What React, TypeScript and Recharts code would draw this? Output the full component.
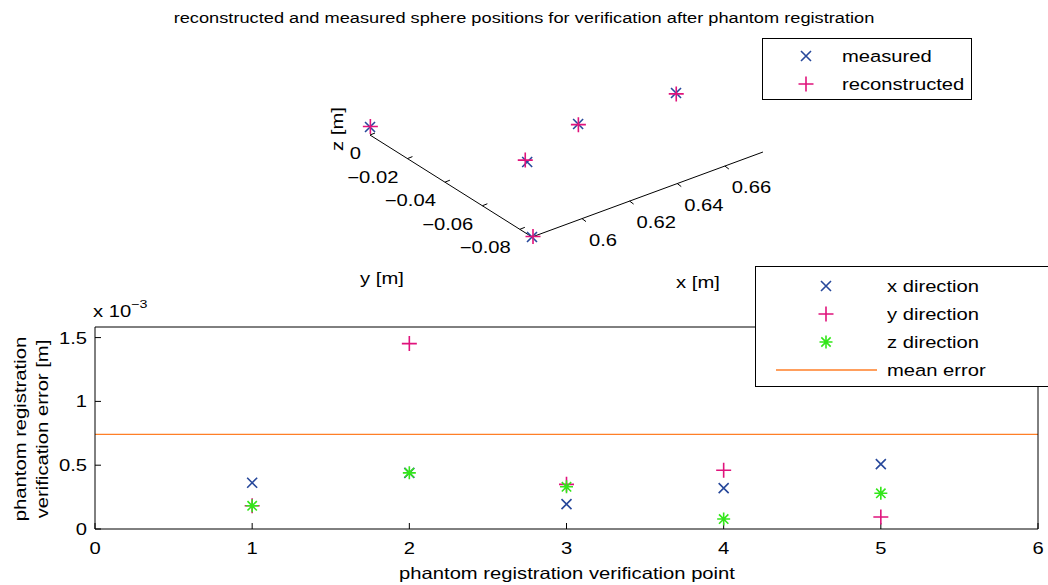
import { ScatterChart, Scatter, XAxis, YAxis, ReferenceLine } from 'recharts';

// 3D sphere positions [m]
const measuredX = [0.5824, 0.6093, 0.6388, 0.6778, 0.579];
const measuredY = [0.0043, -0.0454, -0.0351, -0.0378, -0.0865];
const reconstructedX = [0.5827, 0.6096, 0.6386, 0.6775, 0.5795];
const reconstructedY = [0.0045, -0.044, -0.0355, -0.0383, -0.0864];

const xTicks3d = [0.6, 0.62, 0.64, 0.66];
const yTicks3d = [0, -0.02, -0.04, -0.06, -0.08];
const xLim3d = [0.579, 0.676];
const yLim3d = [-0.0865, 0];

// verification errors per point [m]
const points = [1, 2, 3, 4, 5];
const errX = [0.362e-3, 0.44e-3, 0.195e-3, 0.32e-3, 0.508e-3];
const errY = [0.182e-3, 1.453e-3, 0.35e-3, 0.46e-3, 0.094e-3];
const errZ = [0.182e-3, 0.44e-3, 0.331e-3, 0.078e-3, 0.28e-3];
const meanError = 0.742e-3;
const xTicks = [0, 1, 2, 3, 4, 5, 6];
const yTicks = [0, 0.5e-3, 1e-3, 1.5e-3];

const BLUE = '#27489b';
const PINK = '#e0137c';
const GREEN = '#33e61a';
const ORANGE = '#ff7f27';
const FONT = '"Liberation Sans", Arial, Helvetica, sans-serif';
const FS = 16.3; // font size
const S = 1.24; // the reference's glyphs are wider than Arial

// oblique projection of the 3D view (screen px per metre)
const corner = { x: 532, y: 237 };
const ax = { x: 2381, y: -876 };
const ay = { x: -1873, y: -1179 };
const project = (x: number, y: number) => ({
  sx: corner.x + (x - xLim3d[0]) * ax.x + (y - yLim3d[0]) * ay.x,
  sy: corner.y + (x - xLim3d[0]) * ax.y + (y - yLim3d[0]) * ay.y,
});

const measured3d = measuredX.map((x, i) => project(x, measuredY[i]));
const reconstructed3d = reconstructedX.map((x, i) => project(x, reconstructedY[i]));

const toRows = (vals: number[]) => points.map((p, i) => ({ pt: p, v: vals[i] }));

const fmt = (v: number) => (v < 0 ? '\u2212' + String(Math.abs(v)) : String(v));

const SText = ({ x, y, anchor = 'start', size = FS, rotate = 0, baseline, children }: any) => (
  <text
    transform={`translate(${x} ${y}) rotate(${rotate}) scale(${S} 1)`}
    textAnchor={anchor}
    dominantBaseline={baseline}
    fontFamily={FONT}
    fontSize={size}
    fill="#000"
  >
    {children}
  </text>
);

const Cross = ({ cx, cy, color, r = 5 }: any) => (
  <path
    d={`M${cx - r},${cy - r}L${cx + r},${cy + r}M${cx - r},${cy + r}L${cx + r},${cy - r}`}
    stroke={color}
    strokeWidth={1.6}
    fill="none"
  />
);
const Plus = ({ cx, cy, color, r = 7.5 }: any) => (
  <path
    d={`M${cx - r},${cy}L${cx + r},${cy}M${cx},${cy - r}L${cx},${cy + r}`}
    stroke={color}
    strokeWidth={1.6}
    fill="none"
  />
);
const Star = ({ cx, cy, color, r = 6.5 }: any) => {
  const d = r * 0.72;
  return (
    <path
      d={`M${cx - r},${cy}L${cx + r},${cy}M${cx},${cy - r}L${cx},${cy + r}M${cx - d},${cy - d}L${cx + d},${cy + d}M${cx - d},${cy + d}L${cx + d},${cy - d}`}
      stroke={color}
      strokeWidth={1.6}
      fill="none"
    />
  );
};

const LegendText = ({ left, cy, children }: any) => (
  <div
    style={{
      position: 'absolute',
      left,
      top: cy - 10,
      lineHeight: '20px',
      fontSize: FS,
      fontFamily: FONT,
      whiteSpace: 'nowrap',
      transform: `scaleX(${S})`,
      transformOrigin: 'left center',
    }}
  >
    {children}
  </div>
);

const XTick = ({ x, y, payload }: any) => (
  <SText x={x} y={y + 13} anchor="middle">
    {payload.value}
  </SText>
);
const YTick = ({ x, y, payload }: any) => (
  <SText x={x} y={y + 6} anchor="end">
    {String(+(payload.value * 1000).toFixed(1))}
  </SText>
);
const NoTick = () => <g />;

export default function App() {
  const xAxisEnd = project(xLim3d[1], yLim3d[0]);
  const yAxisEnd = project(xLim3d[0], yLim3d[1]);

  return (
    <div
      style={{
        position: 'absolute',
        left: 0,
        top: 0,
        width: 1048,
        height: 585,
        background: '#fff',
        overflow: 'hidden',
      }}
    >
      {/* upper 3D view */}
      <div style={{ position: 'absolute', left: 0, top: 0 }}>
        <ScatterChart width={1048} height={300} margin={{ top: 0, right: 0, bottom: 0, left: 0 }}>
          <XAxis type="number" dataKey="sx" domain={[0, 1048]} hide />
          <YAxis type="number" dataKey="sy" domain={[0, 300]} reversed hide />
          <SText x={524} y={23} anchor="middle" size={14.7}>
            reconstructed and measured sphere positions for verification after phantom registration
          </SText>
          <ReferenceLine
            segment={[{ x: corner.x, y: corner.y }, { x: xAxisEnd.sx, y: xAxisEnd.sy }]}
            stroke="#000"
            ifOverflow="visible"
          />
          <ReferenceLine
            segment={[{ x: corner.x, y: corner.y }, { x: yAxisEnd.sx, y: yAxisEnd.sy }]}
            stroke="#000"
            ifOverflow="visible"
          />
          {xTicks3d.map((t) => {
            const p = project(t, yLim3d[0]);
            return (
              <ReferenceLine
                key={`xt${t}`}
                segment={[{ x: p.sx, y: p.sy }, { x: p.sx + 4, y: p.sy + 3 }]}
                stroke="#000"
                ifOverflow="visible"
                label={{
                  value: String(t),
                  content: () => (
                    <SText x={p.sx + 7} y={p.sy + 27}>
                      {fmt(t)}
                    </SText>
                  ),
                }}
              />
            );
          })}
          {yTicks3d.map((t) => {
            const p = project(xLim3d[0], t);
            return (
              <ReferenceLine
                key={`yt${t}`}
                segment={[{ x: p.sx, y: p.sy }, { x: p.sx + 5, y: p.sy - 2 }]}
                stroke="#000"
                ifOverflow="visible"
                label={{
                  value: String(t),
                  content: () => (
                    <SText x={p.sx - 9} y={p.sy + 24} anchor="end">
                      {fmt(t)}
                    </SText>
                  ),
                }}
              />
            );
          })}
          <SText x={382} y={284} anchor="middle">
            y [m]
          </SText>
          <SText x={698} y={288} anchor="middle">
            x [m]
          </SText>
          <SText x={337} y={129} anchor="middle" rotate={-90} baseline="central">
            z [m]
          </SText>
          <Scatter
            name="measured"
            data={measured3d}
            isAnimationActive={false}
            shape={(p: any) => <Cross cx={p.cx} cy={p.cy} color={BLUE} />}
          />
          <Scatter
            name="reconstructed"
            data={reconstructed3d}
            isAnimationActive={false}
            shape={(p: any) => <Plus cx={p.cx} cy={p.cy} color={PINK} />}
          />
        </ScatterChart>
      </div>

      {/* lower error plot */}
      <div style={{ position: 'absolute', left: 0, top: 0 }}>
        <ScatterChart width={1048} height={585} margin={{ top: 297, right: 0, bottom: 26, left: 55 }}>
          <XAxis
            type="number"
            dataKey="pt"
            domain={[0, 6]}
            ticks={xTicks}
            height={30}
            stroke="#000"
            tickSize={-6}
            tickMargin={18}
            tick={XTick}
            label={{
              value: 'phantom registration verification point',
              content: () => (
                <SText x={567} y={579} anchor="middle">
                  phantom registration verification point
                </SText>
              ),
            }}
          />
          <XAxis
            xAxisId="top"
            type="number"
            orientation="top"
            domain={[0, 6]}
            ticks={xTicks}
            height={30}
            stroke="#000"
            tickSize={-6}
            tick={NoTick}
          />
          <YAxis
            type="number"
            dataKey="v"
            domain={[0, 1.583e-3]}
            allowDataOverflow
            ticks={yTicks}
            width={40}
            stroke="#000"
            tickSize={-6}
            tickMargin={14}
            tick={YTick}
            label={{
              value: 'phantom registration verification error [m]',
              content: () => (
                <g>
                  <SText x={20} y={429} anchor="middle" rotate={-90} baseline="central">
                    phantom registration
                  </SText>
                  <SText x={42} y={429} anchor="middle" rotate={-90} baseline="central">
                    verification error [m]
                  </SText>
                  <SText x={93} y={317}>
                    x 10
                    <tspan dy={-9} fontSize={11.5}>
                      {'\u22123'}
                    </tspan>
                  </SText>
                </g>
              ),
            }}
          />
          <YAxis
            yAxisId="right"
            type="number"
            orientation="right"
            domain={[0, 1.583e-3]}
            ticks={yTicks}
            width={10}
            stroke="#000"
            tickSize={-6}
            tick={NoTick}
          />
          <ReferenceLine y={meanError} stroke={ORANGE} strokeWidth={1.2} />
          <Scatter
            name="x direction"
            data={toRows(errX)}
            isAnimationActive={false}
            shape={(p: any) => <Cross cx={p.cx} cy={p.cy} color={BLUE} />}
          />
          <Scatter
            name="y direction"
            data={toRows(errY)}
            isAnimationActive={false}
            shape={(p: any) => <Plus cx={p.cx} cy={p.cy} color={PINK} />}
          />
          <Scatter
            name="z direction"
            data={toRows(errZ)}
            isAnimationActive={false}
            shape={(p: any) => <Star cx={p.cx} cy={p.cy} color={GREEN} />}
          />
        </ScatterChart>
      </div>

      {/* legend of the 3D view */}
      <div
        style={{
          position: 'absolute',
          left: 762,
          top: 38,
          width: 208,
          height: 60,
          border: '1px solid #000',
          background: '#fff',
        }}
      >
        <svg width={80} height={60} style={{ position: 'absolute', left: 0, top: 0 }}>
          <Cross cx={43} cy={17} color={BLUE} />
          <Plus cx={43} cy={45} color={PINK} />
        </svg>
        <LegendText left={79} cy={17}>
          measured
        </LegendText>
        <LegendText left={79} cy={45}>
          reconstructed
        </LegendText>
      </div>

      {/* legend of the error plot */}
      <div
        style={{
          position: 'absolute',
          left: 755,
          top: 266,
          width: 300,
          height: 119,
          border: '1px solid #000',
          background: '#fff',
        }}
      >
        <svg width={130} height={119} style={{ position: 'absolute', left: 0, top: 0 }}>
          <Cross cx={70} cy={19} color={BLUE} />
          <Plus cx={70} cy={47} color={PINK} />
          <Star cx={70} cy={75} color={GREEN} />
          <line x1={20} x2={121} y1={103} y2={103} stroke={ORANGE} strokeWidth={1.5} />
        </svg>
        {['x direction', 'y direction', 'z direction', 'mean error'].map((t, i) => (
          <LegendText key={t} left={131} cy={19 + i * 28}>
            {t}
          </LegendText>
        ))}
      </div>
    </div>
  );
}
